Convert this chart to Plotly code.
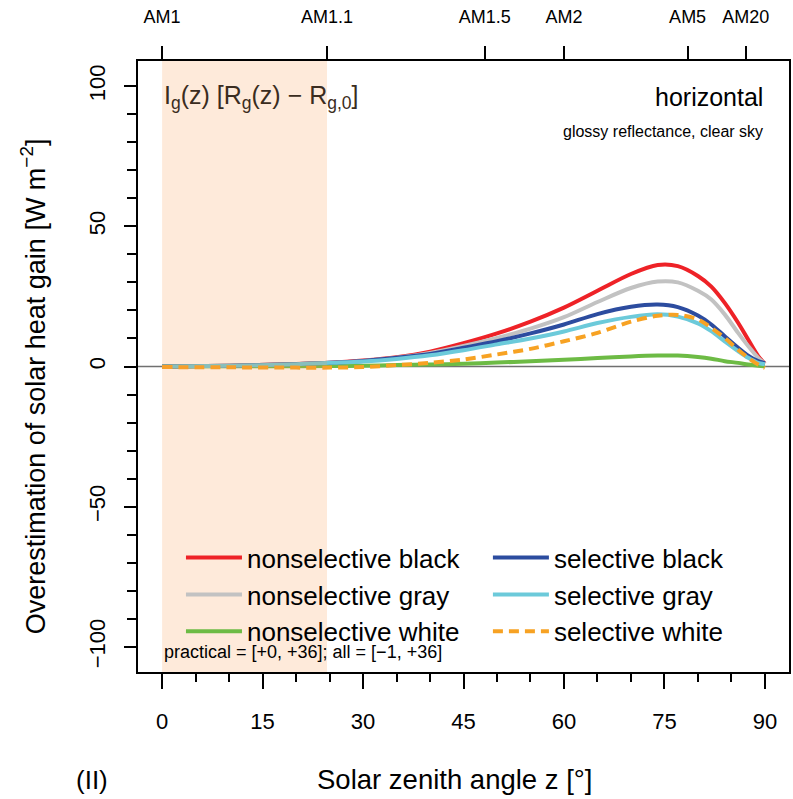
import numpy as np
import plotly.graph_objects as go

# ---------------- data ----------------
zenith = [0, 10, 20, 25, 30, 35, 40, 45, 50, 55, 60, 65, 70, 74, 77, 80, 82, 84, 86, 87.5, 89, 90]

nonsel_black = [0, 0.3, 0.9, 1.3, 2.1, 3.3, 5.3, 8.3, 11.8, 16.0, 21.0, 27.0, 33.0, 36.2, 35.8, 32.3, 28.5, 22.7, 15.6, 9.6, 3.7, 1.0]
nonsel_gray = [0, 0.3, 0.8, 1.2, 2.0, 3.1, 4.8, 7.3, 10.2, 13.5, 17.6, 23.0, 28.0, 30.3, 30.0, 27.0, 23.9, 18.6, 12.0, 7.3, 3.1, 1.0]
nonsel_white = [0, 0.05, 0.1, 0.15, 0.3, 0.5, 0.7, 1.0, 1.4, 1.9, 2.4, 3.0, 3.6, 3.9, 3.9, 3.4, 2.8, 1.9, 1.3, 0.7, 0.3, 0.1]
sel_black = [0, 0.3, 0.9, 1.3, 2.0, 3.1, 4.5, 6.7, 9.0, 11.8, 15.0, 18.7, 21.3, 22.1, 21.2, 18.2, 15.0, 10.8, 6.7, 3.9, 1.9, 1.2]
sel_gray = [0, 0.3, 0.8, 1.3, 1.8, 2.7, 4.0, 5.8, 7.9, 10.0, 12.5, 15.5, 17.7, 18.6, 17.8, 15.4, 12.6, 9.0, 5.5, 3.1, 1.3, 0.8]
sel_white = [-0.2, -0.3, -0.4, -0.4, -0.2, 0.5, 1.3, 2.5, 4.3, 6.3, 9.0, 12.0, 16.0, 18.1, 18.4, 16.8, 13.8, 10.2, 6.0, 3.1, 0.7, -0.5]

air_mass = [1, 1.1, 1.5, 2, 5, 20]
air_mass_labels = ["AM1", "AM1.1", "AM1.5", "AM2", "AM5", "AM20"]
am_angles = [float(np.degrees(np.arccos(1.0 / m))) for m in air_mass]

x_ticks = [0, 15, 30, 45, 60, 75, 90]
y_ticks = [-100, -50, 0, 50, 100]

FONT = "Liberation Sans, Arial, sans-serif"

series = [
    ("nonselective black", nonsel_black, "#EE2227", "solid", "legend"),
    ("nonselective gray", nonsel_gray, "#C2C2C2", "solid", "legend"),
    ("nonselective white", nonsel_white, "#6DBB45", "solid", "legend"),
    ("selective black", sel_black, "#2C4C9F", "solid", "legend2"),
    ("selective gray", sel_gray, "#6CCADA", "solid", "legend2"),
    ("selective white", sel_white, "#F7A223", "10px,6px", "legend2"),
]

fig = go.Figure()
for name, vals, col, dash, leg in series:
    fig.add_trace(go.Scatter(
        x=zenith, y=vals, mode="lines", name=name, legend=leg,
        line=dict(color=col, width=4, dash=dash, shape="spline", smoothing=0.9),
    ))

# invisible trace for top axis
fig.add_trace(go.Scatter(x=[am_angles[0], am_angles[-1]], y=[0, 0], xaxis="x2",
                         mode="lines", line=dict(width=0), opacity=0,
                         showlegend=False, hoverinfo="skip"))

# shaded practical region (AM1 .. AM1.1)
fig.add_shape(type="rect", xref="x", yref="paper", x0=am_angles[0], x1=am_angles[1],
              y0=0, y1=1, fillcolor="rgba(250,150,70,0.20)", line=dict(width=0), layer="above")
# zero line
fig.add_shape(type="line", xref="paper", yref="y", x0=0, x1=1, y0=0, y1=0,
              line=dict(color="#707070", width=1.3), layer="below")

axis_common = dict(showgrid=False, zeroline=False, tickcolor="black", tickwidth=1.5,
                   linecolor="black", linewidth=1.5)

legend_common = dict(orientation="v", yanchor="top", xanchor="left", itemwidth=56,
                     font=dict(size=26, family=FONT), bgcolor="rgba(0,0,0,0)",
                     tracegroupgap=0, traceorder="normal")

fig.update_layout(
    width=793, height=799,
    margin=dict(l=138, r=2, t=61, b=127),
    paper_bgcolor="white", plot_bgcolor="white",
    font=dict(family=FONT, color="black"),
    xaxis=dict(range=[-3.6, 93.6], tickvals=x_ticks, ticks="outside", ticklen=15,
               tickfont=dict(size=22), showline=True, mirror=True,
               ticklabelstandoff=14,
               minor=dict(dtick=5, tick0=0, ticks="outside", ticklen=8,
                          tickcolor="black", tickwidth=1.5),
               **axis_common),
    xaxis2=dict(range=[-3.6, 93.6], overlaying="x", side="top", anchor="y",
                tickvals=am_angles, ticktext=air_mass_labels, ticks="outside",
                ticklen=14, tickfont=dict(size=18), showline=False,
                ticklabelstandoff=16,
                showgrid=False, zeroline=False, tickcolor="black", tickwidth=1.5),
    yaxis=dict(range=[-109, 109], tickvals=y_ticks, ticks="outside", ticklen=12,
               tickfont=dict(size=22), tickangle=-90, showline=True, mirror=True,
               ticklabelstandoff=10,
               minor=dict(dtick=10, tick0=0, ticks="outside", ticklen=9,
                          tickcolor="black", tickwidth=1.5),
               **axis_common),
    legend=dict(x=0.066, y=0.2255, **legend_common),
    legend2=dict(x=0.5375, y=0.2255, **legend_common),
    showlegend=True,
)

annotations = [
    dict(text="I<sub>g</sub>(z) [R<sub>g</sub>(z) − R<sub>g,0</sub>]", x=0.0, y=97, xref="x", yref="paper",
         xanchor="left", yanchor="middle", font=dict(size=25, color="#3a2c20")),
    dict(text="horizontal", x=90, y=97, xref="x", yref="paper", xanchor="right", yanchor="middle",
         font=dict(size=25)),
    dict(text="glossy reflectance, clear sky", x=90, y=131, xref="x", yref="paper",
         xanchor="right", yanchor="middle", font=dict(size=16)),
    dict(text="practical = [+0, +36]; all = [−1, +36]", x=0.0, y=652, xref="x", yref="paper",
         xanchor="left", yanchor="middle", font=dict(size=18)),
    dict(text="(II)", x=92, y=780, xref="paper", yref="paper", xanchor="center", yanchor="middle",
         font=dict(size=26)),
    dict(text="Solar zenith angle z [°]", x=455, y=780, xref="paper", yref="paper",
         xanchor="center", yanchor="middle", font=dict(size=27.5)),
    dict(text="Overestimation of solar heat gain [W m<sup>−2</sup>]", x=33, y=386, xref="paper",
         yref="paper", xanchor="center", yanchor="middle", textangle=-90, font=dict(size=27)),
]
# convert pixel positions to paper coordinates
L, R, T, B = 138, 793 - 2, 61, 799 - 127
for a in annotations:
    if a["yref"] == "paper":
        a["y"] = 1 - (a["y"] - T) / (B - T)
    if a["xref"] == "paper":
        a["x"] = (a["x"] - L) / (R - L)
    a["showarrow"] = False
fig.update_layout(annotations=annotations)

fig.write_html("out.html")
